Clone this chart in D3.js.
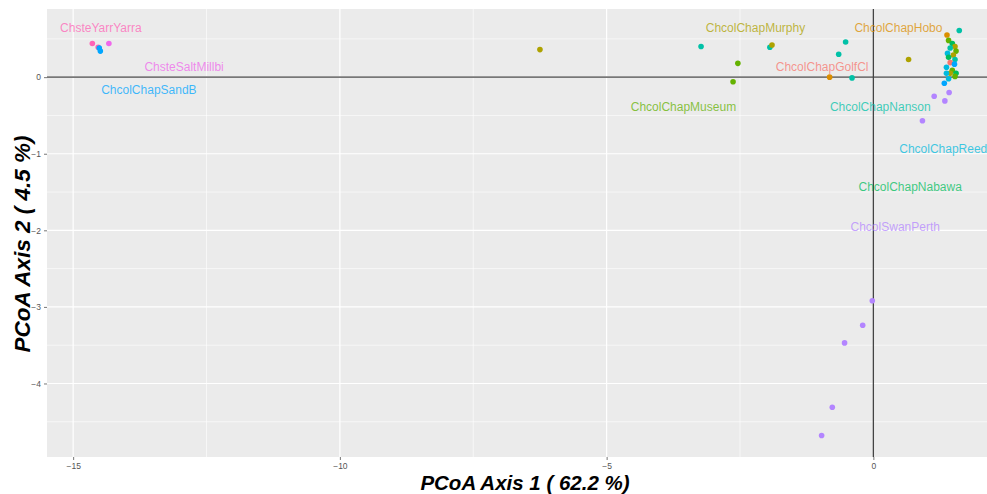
<!DOCTYPE html>
<html><head><meta charset="utf-8">
<script src="https://cdn.jsdelivr.net/npm/d3@7"></script>
<style>body{margin:0;background:#fff}svg{display:block}</style>
</head><body>
<script>
// Groups (alphabetical, ggplot hue palette order)
const groups = ["ChcolChapGolfCl","ChcolChapHobo","ChcolChapMurphy","ChcolChapMuseum","ChcolChapNabawa","ChcolChapNanson","ChcolChapReed","ChcolChapSandB","ChcolSwanPerth","ChsteSaltMillbi","ChsteYarrYarra"];
const groupColors = ["#F8766D","#DB8E00","#AEA200","#64B200","#00BD5C","#00C1A7","#00BADE","#00A6FF","#B385FF","#EF67EB","#FF63B6"];
// Label positions (axis units)
const labelX = [-0.96, 0.47, -2.21, -3.56, 0.69, 0.13, 1.31, -13.58, 0.41, -12.92, -14.48];
const labelY = [0.13, 0.65, 0.65, -0.39, -1.43, -0.39, -0.93, -0.17, -1.95, 0.13, 0.65];
// Points
const pointGroup = [
 "ChsteYarrYarra","ChsteYarrYarra","ChsteSaltMillbi","ChcolChapSandB","ChcolChapSandB",
 "ChcolChapMurphy","ChcolChapNanson","ChcolChapMuseum","ChcolChapMuseum","ChcolChapNanson","ChcolChapMurphy",
 "ChcolChapNanson","ChcolChapNanson","ChcolChapHobo","ChcolChapNanson","ChcolChapMurphy",
 "ChcolChapHobo","ChcolChapNanson","ChcolChapMuseum","ChcolChapNabawa","ChcolChapMurphy","ChcolChapNanson",
 "ChcolChapMuseum","ChcolChapReed","ChcolChapMurphy","ChcolChapNabawa","ChcolChapNanson","ChcolChapGolfCl",
 "ChcolChapSandB","ChcolChapReed","ChcolChapMuseum","ChcolChapNabawa","ChcolChapMurphy","ChcolChapReed",
 "ChcolChapSandB","ChcolChapReed","ChcolChapMuseum",
 "ChcolSwanPerth","ChcolSwanPerth","ChcolSwanPerth","ChcolSwanPerth",
 "ChcolSwanPerth","ChcolSwanPerth","ChcolSwanPerth","ChcolSwanPerth","ChcolSwanPerth"];
const pointX = [
 -14.64,-14.53,-14.33,-14.49,-14.51,
 -6.25,-3.23,-2.54,-2.63,-1.94,-1.90,
 -0.52,-0.65,-0.82,-0.40,0.66,
 1.38,1.61,1.41,1.48,1.53,1.44,
 1.55,1.39,1.50,1.41,1.53,1.44,
 1.52,1.37,1.48,1.55,1.44,1.37,
 1.33,1.41,1.53,
 1.14,1.42,1.34,0.92,
 -0.02,-0.20,-0.54,-0.77,-0.97];
const pointY = [
 0.44,0.39,0.44,0.34,0.38,
 0.36,0.40,0.18,-0.06,0.39,0.42,
 0.46,0.30,0.00,-0.01,0.23,
 0.55,0.61,0.48,0.44,0.40,0.38,
 0.34,0.31,0.29,0.26,0.23,0.19,
 0.17,0.13,0.09,0.05,0.05,0.05,
 -0.08,-0.02,0.01,
 -0.25,-0.20,-0.31,-0.57,
 -2.92,-3.24,-3.47,-4.31,-4.68];
const xTicks = [-15,-10,-5,0];
const yTicks = [0,-1,-2,-3,-4];
const xMinor = [-12.5,-7.5,-2.5];
const yMinor = [0.5,-0.5,-1.5,-2.5,-3.5,-4.5];
const xTitle = "PCoA Axis 1 ( 62.2 %)";
const yTitle = "PCoA Axis 2 ( 4.5 %)";

const W = 987, H = 494;
const m = {left:47, right:0, top:9, bottom:37};
const svg = d3.select("body").append("svg").attr("width",W).attr("height",H);
const x = d3.scaleLinear().domain([-15.49, 2.13]).range([m.left, W - m.right]);
const y = d3.scaleLinear().domain([-4.96, 0.89]).range([H - m.bottom, m.top]);
const color = d3.scaleOrdinal().domain(groups).range(groupColors);

svg.append("rect").attr("x",m.left).attr("y",m.top)
  .attr("width",W-m.right-m.left).attr("height",H-m.bottom-m.top).attr("fill","#EBEBEB");

const g = svg.append("g");
g.selectAll(".vmin").data(xMinor).join("line")
  .attr("x1",d=>x(d)).attr("x2",d=>x(d)).attr("y1",m.top).attr("y2",H-m.bottom)
  .attr("stroke","#fff").attr("stroke-width",0.6);
g.selectAll(".hmin").data(yMinor).join("line")
  .attr("y1",d=>y(d)).attr("y2",d=>y(d)).attr("x1",m.left).attr("x2",W-m.right)
  .attr("stroke","#fff").attr("stroke-width",0.6);
g.selectAll(".vmaj").data(xTicks).join("line")
  .attr("x1",d=>x(d)).attr("x2",d=>x(d)).attr("y1",m.top).attr("y2",H-m.bottom)
  .attr("stroke","#fff").attr("stroke-width",1.2);
g.selectAll(".hmaj").data(yTicks).join("line")
  .attr("y1",d=>y(d)).attr("y2",d=>y(d)).attr("x1",m.left).attr("x2",W-m.right)
  .attr("stroke","#fff").attr("stroke-width",1.2);

// reference lines
svg.append("line").attr("x1",m.left).attr("x2",W-m.right).attr("y1",y(0)).attr("y2",y(0))
  .attr("stroke","#777").attr("stroke-width",1.6);
svg.append("line").attr("x1",x(0)).attr("x2",x(0)).attr("y1",m.top).attr("y2",H-m.bottom)
  .attr("stroke","#444").attr("stroke-width",1.3);

// axes
const xAxis = svg.append("g").attr("transform",`translate(0,${H-m.bottom})`)
  .call(d3.axisBottom(x).tickValues(xTicks).tickSize(3).tickPadding(3).tickFormat(d3.format("d")));
const yAxis = svg.append("g").attr("transform",`translate(${m.left},0)`)
  .call(d3.axisLeft(y).tickValues(yTicks).tickSize(3).tickPadding(3).tickFormat(d3.format("d")));
[xAxis,yAxis].forEach(a=>{
  a.select(".domain").remove();
  a.selectAll(".tick line").attr("stroke","#777");
  a.selectAll(".tick text").attr("fill","#555").style("font-family","Liberation Sans, Arial, sans-serif").style("font-size","8.5px");
});

// points
const pts = pointX.map((v,i)=>({x:v,y:pointY[i],g:pointGroup[i]}));
svg.append("g").selectAll("circle").data(pts).join("circle")
  .attr("cx",d=>x(d.x)).attr("cy",d=>y(d.y)).attr("r",2.8)
  .attr("fill",d=>color(d.g));

// labels
const labs = groups.map((gname,i)=>({name:gname,x:labelX[i],y:labelY[i]}));
svg.append("g").selectAll("text").data(labs).join("text")
  .attr("x",d=>x(d.x)).attr("y",d=>y(d.y)).attr("dy","0.35em")
  .attr("text-anchor","middle").attr("fill",d=>color(d.name)).attr("fill-opacity",0.75)
  .style("font-family","Liberation Sans, Arial, sans-serif").style("font-size","12px")
  .text(d=>d.name);

// titles
svg.append("text").attr("x",525).attr("y",H-4).attr("text-anchor","middle")
  .style("font-family","Liberation Sans, Arial, sans-serif").style("font-size","20.5px")
  .style("font-weight","bold").style("font-style","italic").text(xTitle);
svg.append("text").attr("transform",`translate(30,244) rotate(-90)`)
  .attr("text-anchor","middle")
  .style("font-family","Liberation Sans, Arial, sans-serif").style("font-size","22.5px")
  .style("font-weight","bold").style("font-style","italic").text(yTitle);
</script>
</body></html>
